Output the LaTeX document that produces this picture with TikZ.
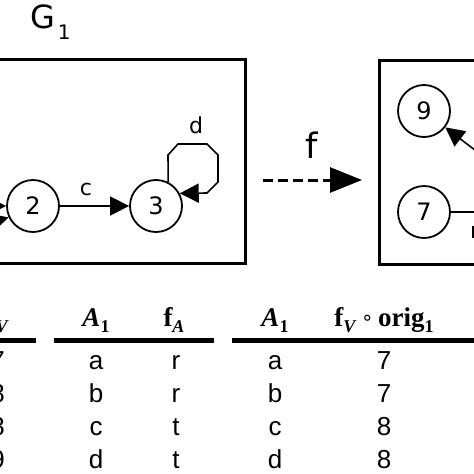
\documentclass[tikz,border=0pt]{standalone}
\usepackage{fontspec}
\setmainfont{DejaVu Sans}
\newfontfamily\hdr{Liberation Serif}
\newfontfamily\tabf{Liberation Sans}
\newfontfamily\lab{DejaVu Sans}
\usetikzlibrary{arrows.meta}
\newcommand\hsub[1]{\raisebox{-6.5pt}{\fontsize{18}{18}\selectfont #1}}
\begin{document}
\begin{tikzpicture}[x=1pt,y=-1pt,
  vtx/.style={circle,draw,line width=1.8pt,minimum size=52pt,inner sep=0pt,font=\lab\fontsize{24}{24}\selectfont},
  arr/.style={line width=1.6pt,-{Triangle[length=19pt,width=19pt]}},
  elab/.style={font=\lab\fontsize{22}{22}\selectfont,inner sep=0pt,anchor=base},
  frame/.style={line width=3pt},
  rulel/.style={line width=5pt},
  cell/.style={font=\tabf\fontsize{26}{26}\selectfont,inner sep=0pt,anchor=base},
  head/.style={font=\hdr\bfseries\fontsize{27}{27}\selectfont,inner sep=0pt,anchor=base}]
\useasboundingbox (0,0) rectangle (474,474);
\clip (0,0) rectangle (474,474);
\fill[white] (0,0) rectangle (474,474);
% frames
\draw[frame] (-200,59.5) rectangle (245.5,263);
\draw[frame] (379,60.5) rectangle (700,264);
% G1 label
\node[font=\lab\fontsize{32}{32}\selectfont,inner sep=0pt,anchor=base west] (g1) at (30,28.5) {G\hspace{3pt}\raisebox{-11pt}{\fontsize{20}{20}\selectfont 1}};
% graph G1
\node[vtx] (n2) at (33,206) {2};
\node[vtx] (n3) at (156,206) {3};
\coordinate (n1) at (-100,206);
\draw[arr] (n1) -- (n2);
\draw[arr] (n1) .. controls (-60,250) and (-20,226) .. (n2.205);
\draw[arr] (n2) -- (n3);
\node[elab] (lc) at (86,195) {c};
\draw[arr] (n3.63) -- (168,155) -- (178,144) -- (207,144) -- (218,155) -- (218,182) -- (207,193) -- (n3.28);
\node[elab] (ld) at (196,133) {d};
% f arrow
\coordinate (fa) at (263,180);
\coordinate (fb) at (362,180);
\draw[line width=3pt,dash pattern=on 10pt off 5pt,-{Triangle[length=32pt,width=25pt]}] (fa) -- (fb);
\node[font=\lab\fontsize{35}{35}\selectfont,inner sep=0pt,anchor=base] (lf) at (311.5,158) {f};
% graph G2
\node[vtx] (n9) at (424,111) {9};
\node[vtx] (n7) at (424,212) {7};
\coordinate (n8) at (540,200);
\coordinate (n8b) at (560,212);
\draw[arr] (n8) -- (n9);
\draw[line width=1.6pt] (n7) -- (n8b);
\node[elab,anchor=base west] (lr) at (470,238) {r};
% tables
\draw[rulel] (-50,340) -- (36,340);
\draw[rulel] (54,340) -- (214,340);
\draw[rulel] (232,340) -- (600,340);
\node[head,anchor=base east] (h0) at (9,326) {f\hsub{\textit{V}}};
\node[head] (h1) at (96,326) {\textit{A}\hsub{1}};
\node[head] (h2) at (174,326) {f\hsub{\textit{A}}};
\node[head] (h3) at (275,326) {\textit{A}\hsub{1}};
\node[head] (h4) at (384,326) {f\hsub{\textit{V}}\,\raisebox{2pt}{\lab\mdseries\fontsize{20}{20}\selectfont ∘}\,orig\hsub{1}};
\foreach \yy/\p/\q/\r/\s [count=\i] in {369/7/a/r/7, 402/8/b/r/7, 435/8/c/t/8, 468/9/d/t/8}{
  \node[cell,anchor=base east] (c0\i) at (5,\yy) {\p};
  \node[cell] (c1\i) at (96,\yy) {\q};
  \node[cell] (c2\i) at (176,\yy) {\r};
  \node[cell] (c3\i) at (275,\yy) {\q};
  \node[cell] (c4\i) at (384,\yy) {\s};
}
\end{tikzpicture}
\end{document}
